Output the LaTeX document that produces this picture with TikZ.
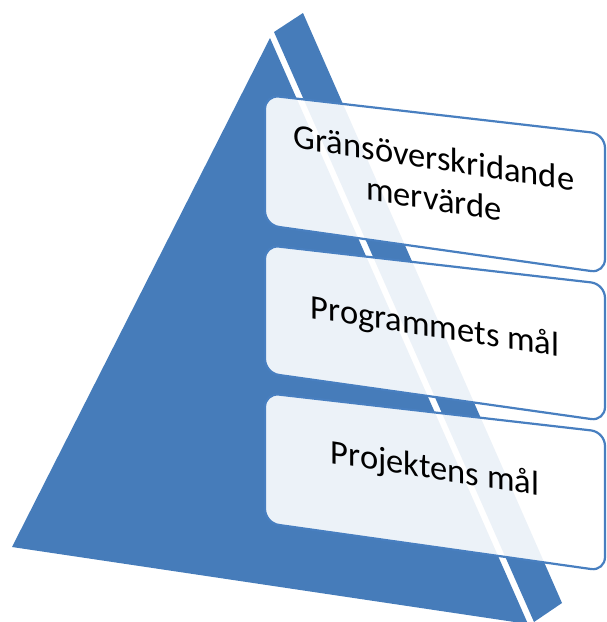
\documentclass[tikz,border=0pt]{standalone}
\usepackage{fontspec}
\setmainfont{Carlito}
\definecolor{pyr}{RGB}{70,124,186}
\definecolor{edgeblue}{RGB}{72,127,192}
\begin{document}
\begin{tikzpicture}[x=1pt,y=-1pt,
  face/.style={fill=pyr, draw=none},
  card/.style={draw=edgeblue, line width=2.2pt, fill=white, fill opacity=0.9, rounded corners=14pt},
  lbl/.style={font=\fontsize{34.5}{41}\selectfont, align=center, text=black, inner sep=0pt, transform shape}]
\useasboundingbox (0,0) rectangle (607,622);
% pyramid left face
\coordinate (A) at (270,38);
\coordinate (B) at (12,547);
\coordinate (C) at (528,624);
% pyramid right face
\coordinate (D) at (274,32);
\coordinate (E) at (303,13);
\coordinate (F) at (562,603);
\coordinate (G) at (534,622);
\path[face] (A) -- (B) -- (C) -- cycle;
\path[face] (D) -- (E) -- (F) -- (G) -- cycle;
% cards
\draw[card] (265,95) -- (605,134) -- (605,273) -- (265,225) -- cycle;
\draw[card] (265,245) -- (605,284) -- (605,421) -- (265,373) -- cycle;
\draw[card] (265,393) -- (605,432) -- (605,571) -- (265,523) -- cycle;
% texts
\begin{scope}[shift={(434,178)}, yslant=-0.155]
\node[lbl] (t1) at (0,0) {Gränsöverskridande\\mervärde};
\end{scope}
\begin{scope}[shift={(435,328)}, yslant=-0.155]
\node[lbl] (t2) at (0,0) {Programmets mål};
\end{scope}
\begin{scope}[shift={(435,470)}, yslant=-0.155]
\node[lbl] (t3) at (0,0) {Projektens mål};
\end{scope}
\end{tikzpicture}
\end{document}
